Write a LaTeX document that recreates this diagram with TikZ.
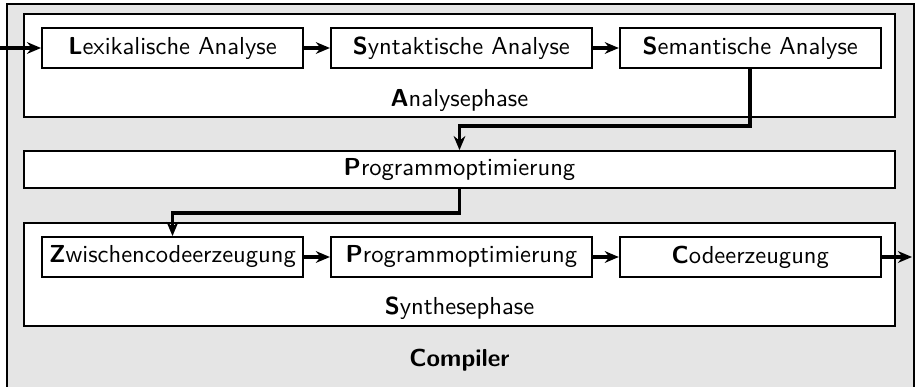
\documentclass[tikz,border=0pt]{standalone}
\usepackage{tikz}
\usetikzlibrary{positioning,arrows.meta}
\renewcommand{\familydefault}{\sfdefault}

\tikzset{
  stage/.style={draw, fill=white, line width=0.8pt,
    minimum width=111.6pt, minimum height=17.1pt, inner sep=0pt},
  phase/.style={draw, fill=white, line width=0.8pt,
    minimum width=372.4pt, inner sep=0pt},
  flow/.style={line width=1.6pt, -{Stealth[length=6pt,width=5pt]}}
}

\begin{document}
\begin{tikzpicture}[x=0.4275pt, y=-0.4275pt, node distance=11.1pt,
    every node/.append style={font=\fontsize{10.5}{12}\selectfont}]
    \useasboundingbox (0,0) rectangle (916,386);
    \draw[fill=black!10, line width=0.8pt] (7,4) rectangle (914,400);
    \node[phase, minimum height=44pt] (analyse) at (459.5,65.5) {};
    \node[phase, minimum height=15.8pt] (prog) at (459.5,169.5) {\textbf{P}rogrammoptimierung};
    \node[phase, minimum height=44pt] (synthese) at (459.5,274.5) {};
    \node (analyselabel) at (459.5,100) {\textbf{A}nalysephase};
    \node (syntheselabel) at (459.5,308) {\textbf{S}ynthesephase};
    \node (compiler) at (459.5,360) {\textbf{Compiler}};
    % analysis
    \node[stage] (lex) at (172.5,48) {\textbf{L}exikalische Analyse};
    \node[stage, right=of lex] (syn) {\textbf{S}yntaktische Analyse};
    \node[stage, right=of syn] (sem) {\textbf{S}emantische Analyse};
    % synthesis
    \node[stage] (zwi) at (172.5,257) {\textbf{Z}wischencodeerzeugung};
    \node[stage, right=of zwi] (opt) {\textbf{P}rogrammoptimierung};
    \node[stage, right=of opt] (code) {\textbf{C}odeerzeugung};
    \coordinate (in) at (0,48);
    \coordinate (out) at (912,257);
    \draw[flow] (in) -- (lex);
    \draw[flow] (lex) -- (syn);
    \draw[flow] (syn) -- (sem);
    \draw[flow] (sem.south) -- ++(0,57) -| (prog.north);
    \draw[flow] (prog.south) -- ++(0,24) -| (zwi.north);
    \draw[flow] (zwi) -- (opt);
    \draw[flow] (opt) -- (code);
    \draw[flow] (code) -- (out);
\end{tikzpicture}
\end{document}
